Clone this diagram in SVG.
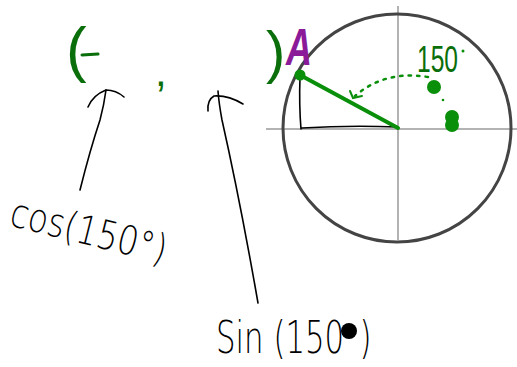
<svg xmlns="http://www.w3.org/2000/svg" width="517" height="367" viewBox="0 0 517 367">
<style>
.ink{fill:none;stroke:#000;stroke-width:1.6;stroke-linecap:round;stroke-linejoin:round}
.axis{fill:none;stroke:#9a9a9a;stroke-width:1.5}
.hand{font-family:"DejaVu Sans","Liberation Sans",Arial,sans-serif;font-weight:200;fill:#000}
.gtxt{font-family:"Liberation Sans",Arial,sans-serif;fill:#0a6e0a}
</style>
<rect width="517" height="367" fill="#fff"/>
<g id="unit-circle">
<line class="axis" x1="398" y1="6" x2="398" y2="240"/>
<line class="axis" x1="266" y1="129" x2="517" y2="129"/>
<circle cx="397" cy="128" r="114" fill="none" stroke="#444" stroke-width="3"/>
</g>
<g id="triangle">
<path class="ink" d="M300 77 Q299 105 301 129 M302 128 Q350 125 398 127"/>
<path d="M300 75 L398 128" fill="none" stroke="#0a8f0a" stroke-width="4" stroke-linecap="round"/>
<circle cx="300" cy="75" r="5.5" fill="#0a8f0a"/>
</g>
<g id="points">
<circle cx="434" cy="87" r="7" fill="#0a8f0a"/>
<circle cx="452" cy="117" r="7" fill="#0a8f0a"/>
<circle cx="452" cy="125" r="7" fill="#0a8f0a"/>
</g>
<g id="connectors">
<path d="M428 77 Q385 70 355 96" fill="none" stroke="#0a8f0a" stroke-width="2.5" stroke-dasharray="2.5 6" stroke-linecap="round"/>
<path d="M350 91 L353 98 L362 96" fill="none" stroke="#0a8f0a" stroke-width="2" stroke-linecap="round"/>
<circle cx="443" cy="100" r="1.3" fill="#0a8f0a"/>
<path class="ink" d="M80 190 Q90 150 100 120 Q104 105 106 90"/>
<path class="ink" d="M88 107 Q93 95 106 90 Q116 90 124 97"/>
<path class="ink" d="M258 303 Q240 200 222 120 Q219 104 218 91"/>
<path class="ink" d="M208 111 Q207 100 214 96 Q228 95 243 104"/>
</g>
<g id="coordinate-pair">
<text class="gtxt" x="66" y="70" font-size="62">(</text>
<line x1="82" y1="55" x2="98" y2="54" stroke="#0a6e0a" stroke-width="3" stroke-linecap="round"/>
<text class="gtxt" x="155" y="86" font-size="42">,</text>
<text class="gtxt" x="266" y="72" font-size="58">)</text>
<text x="286" y="65" font-size="52" font-style="italic" font-weight="bold" textLength="26" lengthAdjust="spacingAndGlyphs" style="font-family:'Liberation Sans',Arial,sans-serif;fill:#8b1a98">A</text>
<text class="gtxt" x="417" y="72" font-size="36" textLength="41" lengthAdjust="spacingAndGlyphs" fill="#0a8f0a">150</text>
<circle cx="463" cy="51" r="1.5" fill="#0a8f0a"/>
</g>
<g id="cos-label">
<text class="hand" x="8" y="225" font-size="40" transform="rotate(14 8 225)" textLength="160" lengthAdjust="spacingAndGlyphs">cos(150°)</text>
</g>
<g id="sin-label">
<text class="hand" font-size="44" transform="translate(216 353) scale(0.7 1)">Sin (150<tspan dx="22">)</tspan></text>
<circle cx="349" cy="331" r="8" fill="#000"/>
</g>
</svg>
